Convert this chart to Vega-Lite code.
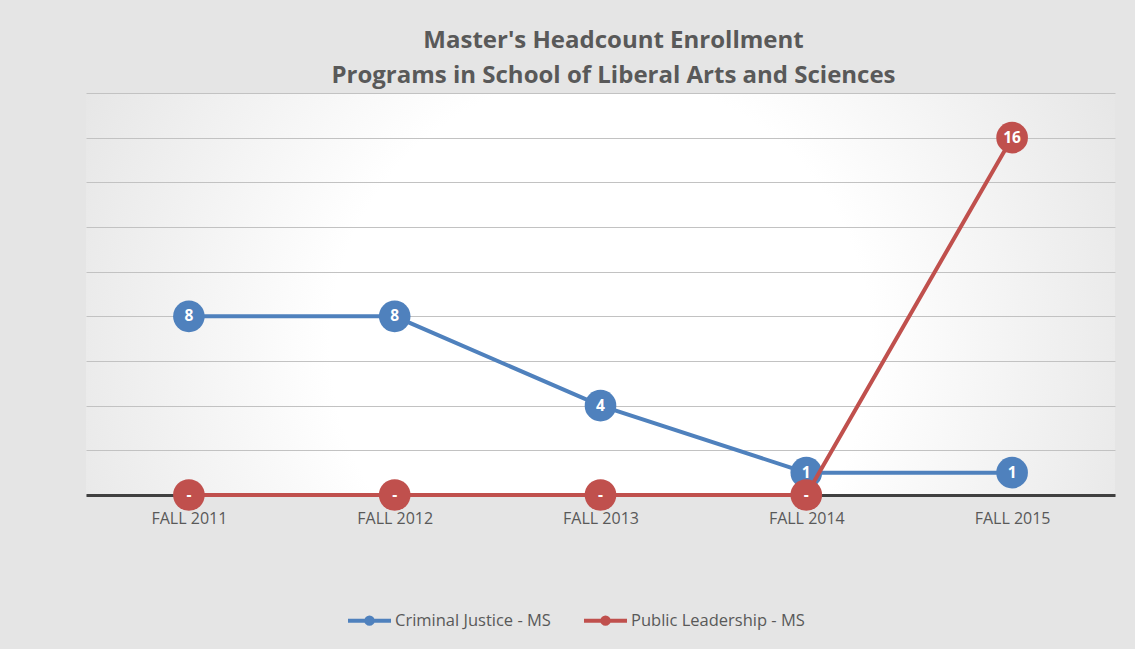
{
  "$schema": "https://vega.github.io/schema/vega-lite/v6.json",
  "width": 1029,
  "height": 402,
  "autosize": {"type": "none"},
  "padding": {"left": 86, "top": 93, "right": 20, "bottom": 154},
  "background": "#e5e5e5",
  "title": {
    "text": ["Master's Headcount Enrollment", "Programs in School of Liberal Arts and Sciences"],
    "font": "Open Sans",
    "fontSize": 24,
    "fontWeight": "bold",
    "color": "#595959",
    "lineHeight": 35,
    "offset": 5,
    "dx": 13,
    "anchor": "middle"
  },
  "data": {
    "values": [
      {"term": "FALL 2011", "series": "Criminal Justice - MS", "value": 8},
      {"term": "FALL 2012", "series": "Criminal Justice - MS", "value": 8},
      {"term": "FALL 2013", "series": "Criminal Justice - MS", "value": 4},
      {"term": "FALL 2014", "series": "Criminal Justice - MS", "value": 1},
      {"term": "FALL 2015", "series": "Criminal Justice - MS", "value": 1},
      {"term": "FALL 2011", "series": "Public Leadership - MS", "value": 0},
      {"term": "FALL 2012", "series": "Public Leadership - MS", "value": 0},
      {"term": "FALL 2013", "series": "Public Leadership - MS", "value": 0},
      {"term": "FALL 2014", "series": "Public Leadership - MS", "value": 0},
      {"term": "FALL 2015", "series": "Public Leadership - MS", "value": 16}
    ]
  },
  "encoding": {
    "x": {
      "field": "term",
      "type": "ordinal",
      "sort": ["FALL 2011", "FALL 2012", "FALL 2013", "FALL 2014", "FALL 2015"],
      "scale": {"type": "point", "padding": 0.5},
      "axis": {
        "title": null,
        "labelAngle": 0,
        "domain": true,
        "domainColor": "#404040",
        "domainWidth": 3,
        "ticks": false,
        "grid": false,
        "labelFont": "Open Sans",
        "labelFontSize": 16,
        "labelColor": "#595959",
        "labelPadding": 15
      }
    },
    "y": {
      "field": "value",
      "type": "quantitative",
      "scale": {"domain": [0, 18], "nice": false},
      "axis": {
        "title": null,
        "values": [0, 2, 4, 6, 8, 10, 12, 14, 16, 18],
        "grid": true,
        "gridColor": "#c2c2c2",
        "gridWidth": 1,
        "labels": false,
        "ticks": false,
        "domain": false
      }
    }
  },
  "layer": [
    {
      "transform": [{"filter": "datum.series === 'Criminal Justice - MS'"}],
      "mark": {"type": "line", "strokeWidth": 4},
      "encoding": {
        "color": {
          "field": "series",
          "type": "nominal",
          "scale": {"domain": ["Criminal Justice - MS", "Public Leadership - MS"], "range": ["#4f81bd", "#c0504d"]},
          "legend": {
            "title": null,
            "orient": "none",
            "legendX": 260,
            "legendY": 504,
            "direction": "horizontal",
            "symbolType": "M-1,0L1,0M-0.15,0A0.15,0.15,0,1,1,0.15,0A0.15,0.15,0,1,1,-0.15,0Z",
            "symbolSize": 1849,
            "symbolStrokeWidth": 4,
            "labelFont": "Open Sans",
            "labelFontSize": 16.5,
            "labelColor": "#595959",
            "labelOffset": 2,
            "labelLimit": 400,
            "columnPadding": 25
          }
        }
      }
    },
    {
      "transform": [{"filter": "datum.series === 'Criminal Justice - MS'"}],
      "mark": {"type": "circle", "size": 1000, "opacity": 1},
      "encoding": {"color": {"field": "series", "type": "nominal"}}
    },
    {
      "transform": [{"filter": "datum.series === 'Criminal Justice - MS'"}],
      "mark": {"type": "text", "color": "#ffffff", "font": "Open Sans", "fontWeight": "bold", "fontSize": 15.5, "align": "center", "baseline": "middle"},
      "encoding": {"text": {"condition": {"test": "datum.value === 0", "value": "-"}, "field": "value", "type": "quantitative"}}
    },
    {
      "transform": [{"filter": "datum.series === 'Public Leadership - MS'"}],
      "mark": {"type": "line", "strokeWidth": 4},
      "encoding": {"color": {"field": "series", "type": "nominal"}}
    },
    {
      "transform": [{"filter": "datum.series === 'Public Leadership - MS'"}],
      "mark": {"type": "circle", "size": 1000, "opacity": 1},
      "encoding": {"color": {"field": "series", "type": "nominal"}}
    },
    {
      "transform": [{"filter": "datum.series === 'Public Leadership - MS'"}],
      "mark": {"type": "text", "color": "#ffffff", "font": "Open Sans", "fontWeight": "bold", "fontSize": 15.5, "align": "center", "baseline": "middle"},
      "encoding": {"text": {"condition": {"test": "datum.value === 0", "value": "-"}, "field": "value", "type": "quantitative"}}
    }
  ],
  "config": {
    "view": {
      "stroke": null,
      "fill": {
        "gradient": "radial",
        "x1": 0.5, "y1": 0.55, "r1": 0,
        "x2": 0.5, "y2": 0.55, "r2": 0.75,
        "stops": [
          {"offset": 0, "color": "#ffffff"},
          {"offset": 0.35, "color": "#ffffff"},
          {"offset": 1, "color": "#d6d6d6"}
        ]
      }
    }
  }
}
